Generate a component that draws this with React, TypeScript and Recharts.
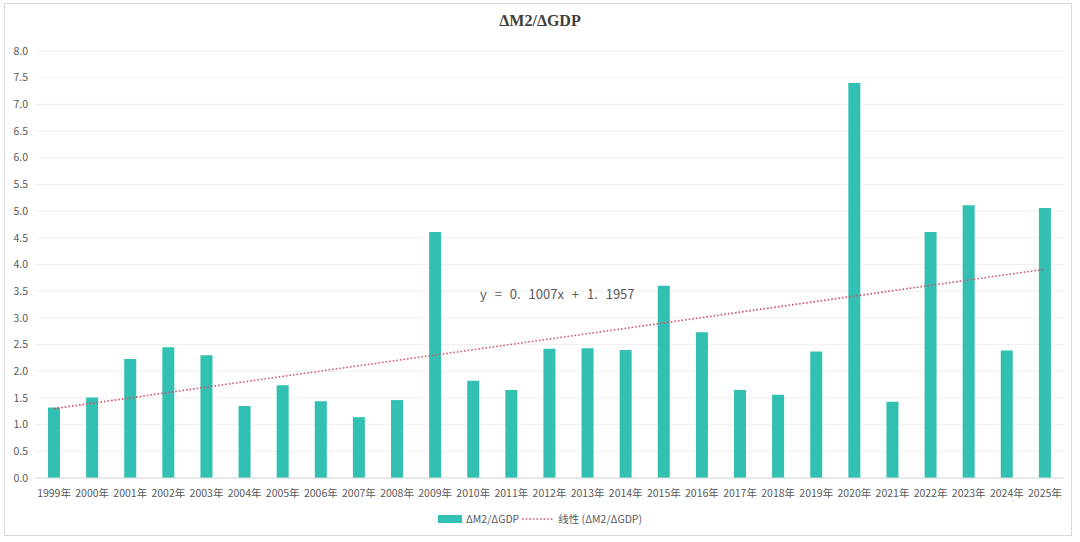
import { BarChart, Bar, XAxis, YAxis, CartesianGrid, ReferenceLine } from 'recharts';

const years = [
  '1999年', '2000年', '2001年', '2002年', '2003年', '2004年', '2005年', '2006年', '2007年',
  '2008年', '2009年', '2010年', '2011年', '2012年', '2013年', '2014年', '2015年', '2016年',
  '2017年', '2018年', '2019年', '2020年', '2021年', '2022年', '2023年', '2024年', '2025年',
];

const ratio = [
  1.32, 1.51, 2.23, 2.45, 2.30, 1.35, 1.74, 1.44, 1.14,
  1.46, 4.61, 1.82, 1.65, 2.42, 2.43, 2.40, 3.60, 2.73,
  1.65, 1.56, 2.37, 7.40, 1.43, 4.61, 5.11, 2.39, 5.06,
];

const yTicks = [0, 0.5, 1, 1.5, 2, 2.5, 3, 3.5, 4, 4.5, 5, 5.5, 6, 6.5, 7, 7.5, 8];

// trend line endpoints (y = 0.1007x + 1.1957)
const trendStart = 1.30;
const trendEnd = 3.91;
const trendLabel = 'y = 0. 1007x + 1. 1957';

const seriesName = 'ΔM2/ΔGDP';
const trendName = '线性 (ΔM2/ΔGDP)';

const data = years.map((year, i) => ({ year, value: ratio[i] }));

const BAR_COLOR = '#31c0b1';
const TREND_COLOR = '#d2566e';
const TEXT = '#595959';
const FONT = '"Noto Sans CJK SC", "Noto Sans", sans-serif';

export default function App() {
  return (
    <div
      style={{
        position: 'absolute',
        left: 0,
        top: 0,
        width: 1080,
        height: 542,
        background: '#fff',
        fontFamily: FONT,
      }}
    >
      <div
        style={{
          position: 'absolute',
          left: 4,
          top: 3,
          width: 1068,
          height: 533,
          border: '1px solid #d9d9d9',
          boxSizing: 'border-box',
        }}
      />
      <div
        style={{
          position: 'absolute',
          left: 0,
          width: 1080,
          top: 12,
          textAlign: 'center',
          fontFamily: '"Liberation Serif", serif',
          fontWeight: 'bold',
          fontSize: 16,
          color: '#404040',
        }}
      >
        {seriesName}
      </div>

      <BarChart
        width={1080}
        height={542}
        data={data}
        margin={{ top: 51, right: 16, left: 0, bottom: 34 }}
        style={{ position: 'absolute', left: 0, top: 0 }}
      >
        <CartesianGrid vertical={false} stroke="#efefef" />
        <XAxis
          dataKey="year"
          interval={0}
          tickLine={false}
          axisLine={{ stroke: '#d9d9d9' }}
          height={30}
          tickMargin={6}
          tick={{ fontSize: 10.5, fill: TEXT, fontFamily: FONT }}
        />
        <YAxis
          width={35}
          domain={[0, 8]}
          ticks={yTicks}
          interval={0}
          tickFormatter={(v: number) => v.toFixed(1)}
          tickLine={false}
          axisLine={false}
          tickSize={0}
          tickMargin={7}
          tick={{ fontSize: 10.5, fill: TEXT, fontFamily: FONT }}
        />
        <Bar dataKey="value" name={seriesName} fill={BAR_COLOR} barSize={12} isAnimationActive={false} />
        <ReferenceLine
          segment={[
            { x: years[0], y: trendStart },
            { x: years[years.length - 1], y: trendEnd },
          ]}
          stroke={TREND_COLOR}
          strokeWidth={1.6}
          strokeDasharray="1.6 2"
        />
      </BarChart>

      <div
        style={{
          position: 'absolute',
          left: 480,
          top: 284,
          fontSize: 13,
          color: TEXT,
          whiteSpace: 'pre',
          wordSpacing: 5,
        }}
      >
        {trendLabel}
      </div>

      <div
        style={{
          position: 'absolute',
          left: 0,
          width: 1080,
          top: 511,
          display: 'flex',
          justifyContent: 'center',
          alignItems: 'center',
          fontSize: 10.5,
          color: TEXT,
        }}
      >
        <span style={{ display: 'inline-block', width: 24, height: 8, background: BAR_COLOR, marginRight: 4 }} />
        <span style={{ marginRight: 3 }}>{seriesName}</span>
        <svg width={32} height={8} style={{ marginRight: 4 }}>
          <line x1={0} y1={4} x2={32} y2={4} stroke={TREND_COLOR} strokeWidth={1.6} strokeDasharray="1.6 2" />
        </svg>
        <span>{trendName}</span>
      </div>
    </div>
  );
}
